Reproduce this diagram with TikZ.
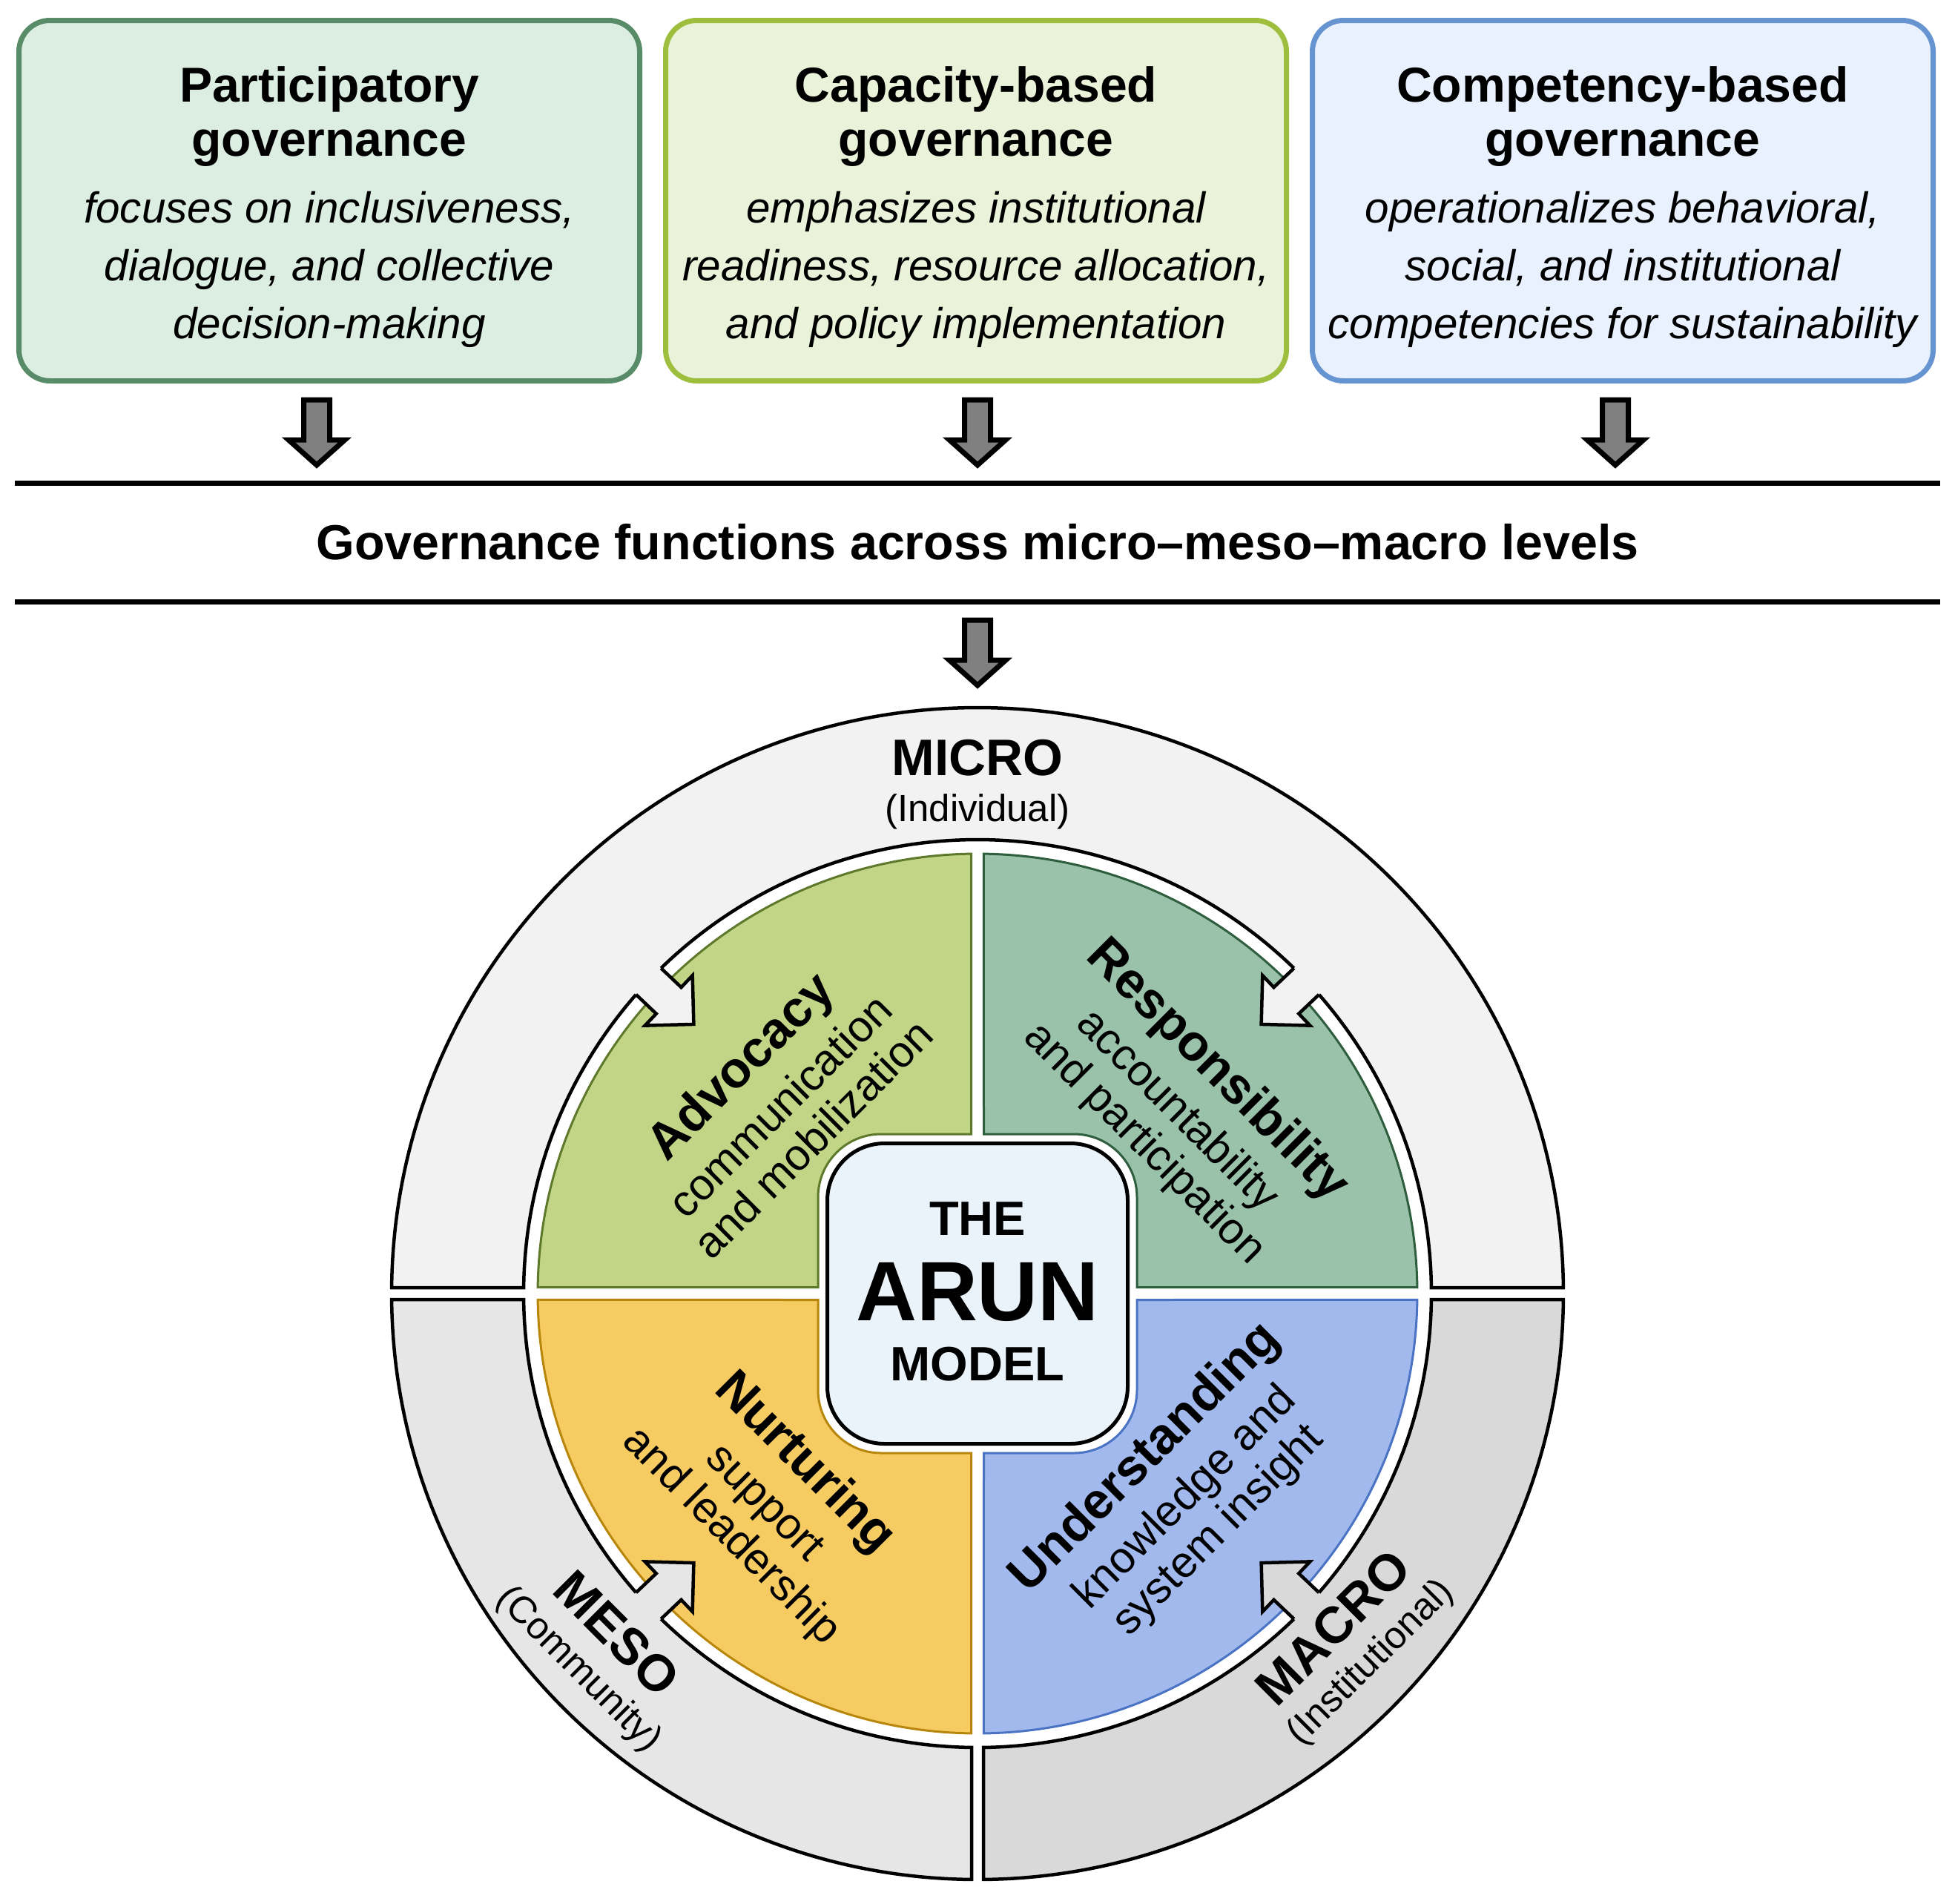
\documentclass[tikz,border=0pt]{standalone}
\usepackage{fontspec}
\setmainfont{Liberation Sans}
\usetikzlibrary{positioning,calc}

\definecolor{partfill}{HTML}{DCEEE2}
\definecolor{partline}{HTML}{588C68}
\definecolor{capfill}{HTML}{EBF2DA}
\definecolor{capline}{HTML}{9EBE3E}
\definecolor{compfill}{HTML}{E8F1FD}
\definecolor{compline}{HTML}{6694D0}
\definecolor{microfill}{HTML}{F2F2F2}
\definecolor{mesofill}{HTML}{E6E6E6}
\definecolor{macrofill}{HTML}{D9D9D9}
\definecolor{advfill}{HTML}{C2D586}
\definecolor{advline}{HTML}{5E782C}
\definecolor{respfill}{HTML}{9AC2AA}
\definecolor{respline}{HTML}{2E5E3E}
\definecolor{nurtfill}{HTML}{F5CB62}
\definecolor{nurtline}{HTML}{B8860B}
\definecolor{undfill}{HTML}{A1B9ED}
\definecolor{undline}{HTML}{4A73C4}
\definecolor{corefill}{HTML}{EAF3FA}
\definecolor{arrowgray}{HTML}{808080}

\newcommand{\quarterpath}{(90.8:5.93) arc[start angle=90.8,end angle=179.2,radius=5.93] -- (-2.15,0.085) -- (-2.15,1.3) arc[start angle=180,end angle=90,radius=0.85] -- (-0.085,2.15) -- cycle}
\newcommand{\qhead}[1]{{\bfseries\fontsize{19.5}{22}\selectfont #1}}

\begin{document}
\begin{tikzpicture}[node distance=0.28cm,
  govbox/.style={draw, line width=0.07cm, rounded corners=0.42cm, minimum width=8.37cm, minimum height=4.86cm, inner sep=0pt},
  ttl/.style={align=center, font=\bfseries\fontsize{18.8}{21}\selectfont},
  dsc/.style={align=center, font=\itshape\fontsize{16.6}{22.2}\selectfont},
  bandtxt/.style={font=\bfseries\fontsize{18.9}{22}\selectfont},
  bandrule/.style={line width=0.07cm},
  blockarr/.style={draw, line width=0.07cm, fill=arrowgray, line join=miter},
  ringline/.style={draw=black, line width=0.045cm},
  quadline/.style={line width=0.03cm},
  core/.style={draw, line width=0.05cm, fill=corefill, rounded corners=0.77cm, minimum size=4.05cm, inner sep=0pt},
  coretxt/.style={font=\bfseries\fontsize{18.5}{20}\selectfont},
  arunbig/.style={font=\bfseries\fontsize{32.3}{36}\selectfont},
  lvl/.style={font=\bfseries\fontsize{19.7}{22}\selectfont},
  lvlsub/.style={font=\fontsize{14.5}{17}\selectfont},
  quadtxt/.style={align=center, font=\fontsize{16.8}{18}\selectfont},
  downarr/.pic={\draw[blockarr] (-0.175,0.44) -- (0.175,0.44) -- (0.175,-0.10) -- (0.38,-0.10) -- (0,-0.44) -- (-0.38,-0.10) -- (-0.175,-0.10) -- cycle;},
  inarr/.pic={
    \fill[#1] (6.45,0.245) -- (5.74,0.245) -- (5.74,0.465) -- (5.275,0) -- (5.74,-0.465) -- (5.74,-0.245) -- (6.45,-0.245) -- cycle;
    \draw[ringline, line join=miter] (6.115,0.245) -- (5.74,0.245) -- (5.74,0.465) -- (5.275,0) -- (5.74,-0.465) -- (5.74,-0.245) -- (6.115,-0.245);}
]
\useasboundingbox (0,0) rectangle (26.36,-25.66);

\node[govbox, draw=partline, fill=partfill] (part) at (4.44,-2.705) {};
\node[govbox, draw=capline, fill=capfill, right=of part] (cap) {};
\node[govbox, draw=compline, fill=compfill, right=of cap] (comp) {};

\node[ttl] (partT) at ($(part.north)+(0,-1.33)$) {Participatory\\governance};
\node[dsc] (partD) at ($(part.north)+(0,-3.39)$) {focuses on inclusiveness,\\dialogue, and collective\\decision-making};
\node[ttl] (capT) at ($(cap.north)+(0,-1.33)$) {Capacity-based\\governance};
\node[dsc] (capD) at ($(cap.north)+(0,-3.39)$) {emphasizes institutional\\readiness, resource allocation,\\and policy implementation};
\node[ttl] (compT) at ($(comp.north)+(0,-1.33)$) {Competency-based\\governance};
\node[dsc] (compD) at ($(comp.north)+(0,-3.39)$) {operationalizes behavioral,\\social, and institutional\\competencies for sustainability};

\pic at (4.27,-5.83) {downarr};
\pic at (13.18,-5.83) {downarr};
\pic at (21.78,-5.83) {downarr};

\coordinate (ruleTL) at (0.20,-6.515);
\coordinate (ruleTR) at (26.16,-6.515);
\coordinate (ruleBL) at (0.20,-8.11);
\coordinate (ruleBR) at (26.16,-8.11);
\draw[bandrule] (ruleTL) -- (ruleTR);
\draw[bandrule] (ruleBL) -- (ruleBR);
\node[bandtxt] (band) at (13.18,-7.31) {Governance functions across micro–meso–macro levels};

\pic at (13.18,-8.80) {downarr};

\coordinate (C) at (13.18,-17.44);
\begin{scope}[shift={(C)}]
  \draw[ringline, fill=microfill] (0.58:7.9) arc[start angle=0.58,end angle=179.42,radius=7.9] -- (179.25:6.12) arc[start angle=179.25,end angle=0.75,radius=6.12] -- cycle;
  \draw[ringline, fill=mesofill] (180.58:7.9) arc[start angle=180.58,end angle=269.42,radius=7.9] -- (269.25:6.12) arc[start angle=269.25,end angle=180.75,radius=6.12] -- cycle;
  \draw[ringline, fill=macrofill] (270.58:7.9) arc[start angle=270.58,end angle=359.42,radius=7.9] -- (359.25:6.12) arc[start angle=359.25,end angle=270.75,radius=6.12] -- cycle;

  \draw[quadline, draw=advline, fill=advfill] \quarterpath;
  \draw[quadline, draw=respline, fill=respfill, rotate=-90] \quarterpath;
  \draw[quadline, draw=nurtline, fill=nurtfill, rotate=90] \quarterpath;
  \draw[quadline, draw=undline, fill=undfill, rotate=180] \quarterpath;

  \pic[rotate=136.5] at (0,0) {inarr=microfill};
  \pic[rotate=43.5] at (0,0) {inarr=microfill};
  \pic[rotate=223.5] at (0,0) {inarr=mesofill};
  \pic[rotate=316.5] at (0,0) {inarr=macrofill};
\end{scope}

\node[core] (arun) at (C) {};
\node[coretxt] (the) at ($(arun)+(0,1.01)$) {THE};
\node[arunbig] (name) at ($(arun)+(0,0.02)$) {ARUN};
\node[coretxt] (model) at ($(arun)+(0,-0.95)$) {MODEL};

\node[lvl] (micro) at ($(C)+(90:7.22)$) {MICRO};
\node[lvlsub] (indiv) at ($(C)+(90:6.50)$) {(Individual)};
\node[lvl, rotate=-45] (meso) at ($(C)+(223.3:6.68)$) {MESO};
\node[lvlsub, rotate=-45] (commu) at ($(C)+(223.3:7.39)$) {(Community)};
\node[lvl, rotate=45] (macro) at ($(C)+(316.8:6.57)$) {MACRO};
\node[lvlsub, rotate=45] (instit) at ($(C)+(316.8:7.28)$) {(Institutional)};

\node[quadtxt, rotate=45] (adv) at ($(C)+(136.4:3.77)$) {\qhead{Advocacy}\\[3pt]communication\\and mobilization};
\node[quadtxt, rotate=-45] (resp) at ($(C)+(42.5:3.73)$) {\qhead{Responsibility}\\[3pt]accountability\\and participation};
\node[quadtxt, rotate=-45] (nurt) at ($(C)+(224.5:3.95)$) {\qhead{Nurturing}\\[3pt]support\\and leadership};
\node[quadtxt, rotate=45] (und) at ($(C)+(315.5:3.85)$) {\qhead{Understanding}\\[3pt]knowledge and\\system insight};
\end{tikzpicture}
\end{document}
